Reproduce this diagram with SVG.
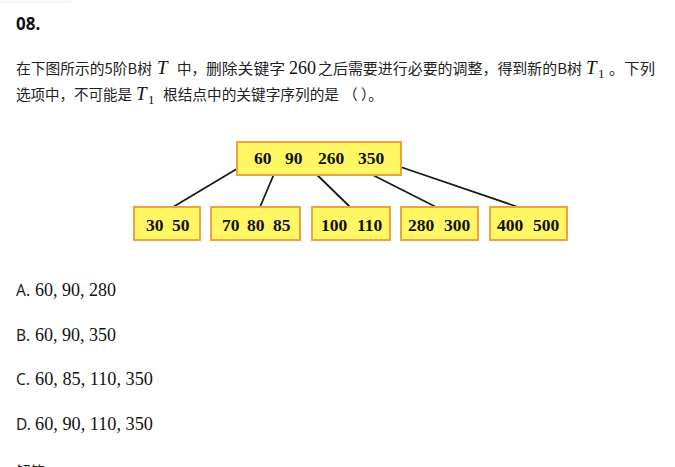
<svg xmlns="http://www.w3.org/2000/svg" width="675" height="467" viewBox="0 0 675 467">
<style>
.bg{fill:#ffffff}
.cjk{font-family:"Noto Sans CJK SC","Noto Sans",sans-serif;font-size:14.5px;fill:#222222}
.title{font-family:"Noto Sans","Liberation Sans",sans-serif;font-size:17px;font-weight:bold;fill:#111111}
.math{font-family:"Liberation Serif","DejaVu Serif",serif;font-size:18px;fill:#111111}
.mi{font-family:"Liberation Serif","DejaVu Serif",serif;font-size:19px;font-style:italic;fill:#111111}
.sub{font-family:"Liberation Serif","DejaVu Serif",serif;font-size:13px;fill:#111111}
.opt{font-family:"Noto Sans","Liberation Sans",sans-serif;font-size:15.5px;fill:#222222}
.box{fill:#fff663;stroke:#eaa53e;stroke-width:2}
.key{font-family:"Liberation Serif","Times New Roman",serif;font-size:17.5px;font-weight:bold;fill:#111111}
.edge{stroke:#1a1a1a;stroke-width:1.8;fill:none;stroke-linecap:round}
</style>
<rect class="bg" x="0" y="0" width="675" height="467"/>
<rect x="-10" y="-10" width="82" height="12" rx="4" fill="#ffffff" stroke="#ececec" stroke-width="1"/>
<text class="title" x="16" y="30">08.</text>

<g id="question">
<text class="cjk" x="16" y="74" textLength="136" lengthAdjust="spacingAndGlyphs">在下图所示的5阶B树</text>
<text class="mi" x="157" y="74">T</text>
<text class="cjk" x="177" y="74">中，</text>
<text class="cjk" x="206" y="74" textLength="79" lengthAdjust="spacingAndGlyphs">删除关键字</text>
<text class="math" x="289" y="74" textLength="27" lengthAdjust="spacingAndGlyphs">260</text>
<text class="cjk" x="318" y="74" textLength="264" lengthAdjust="spacingAndGlyphs">之后需要进行必要的调整，得到新的B树</text>
<text class="mi" x="586" y="74">T</text><text class="sub" x="598" y="78">1</text>
<text class="cjk" x="609" y="74" textLength="46" lengthAdjust="spacingAndGlyphs">。下列</text>
<text class="cjk" x="16" y="100" textLength="116" lengthAdjust="spacingAndGlyphs">选项中，不可能是</text>
<text class="mi" x="136" y="100">T</text><text class="sub" x="148" y="104">1</text>
<text class="cjk" x="163" y="100" textLength="176" lengthAdjust="spacingAndGlyphs">根结点中的关键字序列的是</text>
<text class="cjk" x="343" y="100" textLength="40" lengthAdjust="spacingAndGlyphs">（ ）。</text>
</g>

<g id="connectors">
<line class="edge" x1="240" y1="167" x2="173" y2="207"/>
<line class="edge" x1="277" y1="167" x2="260" y2="207"/>
<line class="edge" x1="308" y1="166" x2="350" y2="207"/>
<line class="edge" x1="349" y1="163" x2="436" y2="207"/>
<line class="edge" x1="389" y1="163" x2="518" y2="207"/>
</g>

<g id="root">
<rect class="box" x="237" y="142" width="164" height="33"/>
<text class="key" x="254" y="164">60</text>
<text class="key" x="285" y="164">90</text>
<text class="key" x="318" y="164">260</text>
<text class="key" x="358" y="164">350</text>
</g>
<g id="leaf1">
<rect class="box" x="134" y="207" width="66" height="33"/>
<text class="key" x="146" y="231">30</text>
<text class="key" x="172" y="231">50</text>
</g>
<g id="leaf2">
<rect class="box" x="211" y="207" width="89" height="33"/>
<text class="key" x="222" y="231">70</text>
<text class="key" x="247" y="231">80</text>
<text class="key" x="273" y="231">85</text>
</g>
<g id="leaf3">
<rect class="box" x="312" y="207" width="78" height="33"/>
<text class="key" x="321" y="231">100</text>
<text class="key" x="357" y="231">110</text>
</g>
<g id="leaf4">
<rect class="box" x="401" y="207" width="77" height="33"/>
<text class="key" x="408" y="231">280</text>
<text class="key" x="444" y="231">300</text>
</g>
<g id="leaf5">
<rect class="box" x="490" y="207" width="77" height="33"/>
<text class="key" x="497" y="231">400</text>
<text class="key" x="533" y="231">500</text>
</g>

<g id="options">
<text class="opt" x="16" y="296">A.</text>
<text class="math" x="35" y="296" textLength="81" lengthAdjust="spacingAndGlyphs">60, 90, 280</text>
<text class="opt" x="16" y="341">B.</text>
<text class="math" x="35" y="341" textLength="81" lengthAdjust="spacingAndGlyphs">60, 90, 350</text>
<text class="opt" x="16" y="385">C.</text>
<text class="math" x="35" y="385" textLength="118" lengthAdjust="spacingAndGlyphs">60, 85, 110, 350</text>
<text class="opt" x="16" y="430">D.</text>
<text class="math" x="35" y="430" textLength="118" lengthAdjust="spacingAndGlyphs">60, 90, 110, 350</text>
<text class="cjk" x="16" y="477">解答</text>
</g>
</svg>
